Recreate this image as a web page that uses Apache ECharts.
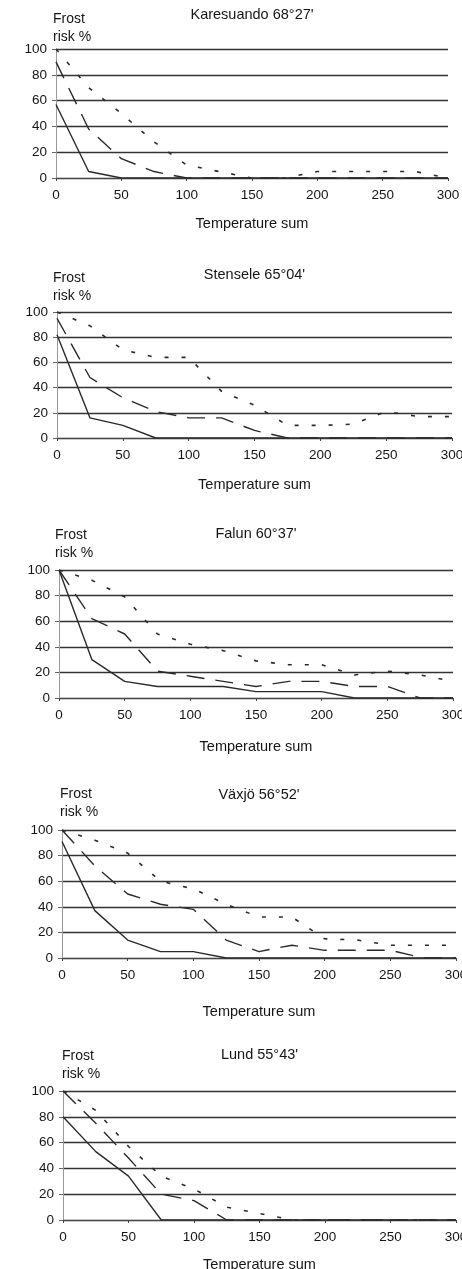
<!DOCTYPE html>
<html>
<head>
<meta charset="utf-8">
<title>Frost risk</title>
<script src="https://cdn.jsdelivr.net/npm/echarts@6/dist/echarts.min.js"></script>
<style>
  html, body { margin: 0; padding: 0; background: #fff; }
  #chart { width: 462px; height: 1269px; }
</style>
</head>
<body>
<div id="chart"></div>
<script>
// temperature sum steps shared by every station
const tempSum = [0, 25, 50, 75, 100, 125, 150, 175, 200, 225, 250, 275, 300];
const xTicks = [0, 50, 100, 150, 200, 250, 300];
const yTicks = [0, 20, 40, 60, 80, 100];

const stations = ["Karesuando 68°27'", "Stensele 65°04'", "Falun 60°37'", "Växjö 56°52'", "Lund 55°43'"];

// frost risk %, one array per line style
const karesuandoSolid = [57, 5, 0, 0, 0, 0, 0, 0, 0, 0, 0, 0, 0];
const karesuandoDashed = [90, 38, 15, 5, 0, 0, 0, 0, 0, 0, 0, 0, 0];
const karesuandoDotted = [100, 70, 50, 28, 10, 5, 0, 0, 5, 5, 5, 5, 0];

const stenseleSolid = [82, 16, 10, 0, 0, 0, 0, 0, 0, 0, 0, 0, 0];
const stenseleDashed = [95, 48, 32, 21, 16, 16, 6, 0, 0, 0, 0, 0, 0];
const stenseleDotted = [100, 89, 70, 64, 64, 37, 26, 10, 10, 11, 21, 17, 17];

const falunSolid = [100, 30, 13, 9, 9, 9, 5, 5, 5, 0, 0, 0, 0];
const falunDashed = [100, 62, 50, 21, 17, 13, 9, 13, 13, 9, 9, 0, 0];
const falunDotted = [100, 92, 79, 50, 42, 37, 29, 26, 26, 18, 21, 18, 13];

const vaxjoSolid = [91, 37, 14, 5, 5, 0, 0, 0, 0, 0, 0, 0, 0];
const vaxjoDashed = [100, 72, 50, 42, 38, 14, 5, 10, 6, 6, 6, 0, 0];
const vaxjoDotted = [100, 92, 82, 60, 54, 42, 32, 32, 15, 14, 10, 10, 10];

const lundSolid = [80, 53, 34, 0, 0, 0, 0, 0, 0, 0, 0, 0, 0];
const lundDashed = [100, 75, 48, 20, 15, 0, 0, 0, 0, 0, 0, 0, 0];
const lundDotted = [100, 85, 57, 34, 24, 10, 5, 0, 0, 0, 0, 0, 0];

const panelData = [
  [karesuandoSolid, karesuandoDashed, karesuandoDotted],
  [stenseleSolid, stenseleDashed, stenseleDotted],
  [falunSolid, falunDashed, falunDotted],
  [vaxjoSolid, vaxjoDashed, vaxjoDotted],
  [lundSolid, lundDashed, lundDotted],
];

// layout of the five stacked panels (px)
const panels = [
  { left: 56, top: 49, width: 392, height: 129, title: 15, frost: 53, frostY: 19, nameGap: 38 },
  { left: 57, top: 312, width: 395, height: 126, title: 275, frost: 53, frostY: 278, nameGap: 39 },
  { left: 59, top: 570, width: 394, height: 128, title: 534, frost: 55, frostY: 535, nameGap: 41 },
  { left: 62, top: 830, width: 394, height: 128, title: 795, frost: 60, frostY: 794, nameGap: 46 },
  { left: 63, top: 1091, width: 393, height: 129, title: 1055, frost: 62, frostY: 1056, nameGap: 37 },
];

const font = "'Liberation Sans', Arial, sans-serif";
const ink = "#151515";
const lineStyles = [
  { type: "solid", width: 1.4 },
  { type: [18, 11], width: 1.4 },
  { type: [4, 13], width: 1.6 },
];

const chart = echarts.init(document.getElementById("chart"));

const grids = [];
const xAxes = [];
const yAxes = [];
const series = [];
const texts = [];

panels.forEach((p, i) => {
  // outerBoundsMode none: let the last tick label run off the page like the scan
  grids.push({ left: p.left, top: p.top, width: p.width, height: p.height, outerBoundsMode: "none" });
  xAxes.push({
    gridIndex: i,
    type: "value",
    min: 0,
    max: 300,
    interval: 50,
    name: "Temperature sum",
    nameLocation: "middle",
    nameGap: p.nameGap,
    nameTextStyle: { fontFamily: font, fontSize: 14.5, color: ink },
    axisLine: { onZero: false, lineStyle: { color: "#444", width: 1.2 } },
    axisTick: { show: true, length: 3, lineStyle: { color: "#444" } },
    axisLabel: {
      fontFamily: font,
      fontSize: 13.5,
      color: ink,
      margin: 10,
      hideOverlap: false,
      formatter: (v) => (xTicks.includes(v) ? String(v) : ""),
    },
    splitLine: { show: false },
  });
  yAxes.push({
    gridIndex: i,
    type: "value",
    min: 0,
    max: 100,
    interval: 20,
    axisLine: { show: true, lineStyle: { color: "#999", width: 1 } },
    axisTick: { show: true, length: 4, lineStyle: { color: "#666" } },
    axisLabel: {
      fontFamily: font,
      fontSize: 13.5,
      color: ink,
      margin: 9,
      formatter: (v) => (yTicks.includes(v) ? String(v) : ""),
    },
    splitLine: { show: true, lineStyle: { color: "#333", width: 1.3 } },
  });

  panelData[i].forEach((values, k) => {
    series.push({
      type: "line",
      xAxisIndex: i,
      yAxisIndex: i,
      showSymbol: false,
      silent: true,
      z: 3,
      data: tempSum.map((t, j) => [t, values[j]]),
      lineStyle: { color: "#2a2a2a", type: lineStyles[k].type, width: lineStyles[k].width },
    });
  });

  texts.push(
    {
      type: "text",
      x: p.left + p.width / 2,
      y: p.title,
      style: { text: stations[i], font: "14.5px " + font, fill: ink, textAlign: "center", textVerticalAlign: "middle" },
    },
    {
      type: "text",
      x: p.frost,
      y: p.frostY,
      style: { text: "Frost", font: "14px " + font, fill: ink, textVerticalAlign: "middle" },
    },
    {
      type: "text",
      x: p.frost,
      y: p.frostY + 18.5,
      style: { text: "risk %", font: "14px " + font, fill: ink, textVerticalAlign: "middle" },
    }
  );
});

chart.setOption({
  backgroundColor: "#fff",
  animation: false,
  grid: grids,
  xAxis: xAxes,
  yAxis: yAxes,
  series: series,
  graphic: texts,
});
</script>
</body>
</html>
